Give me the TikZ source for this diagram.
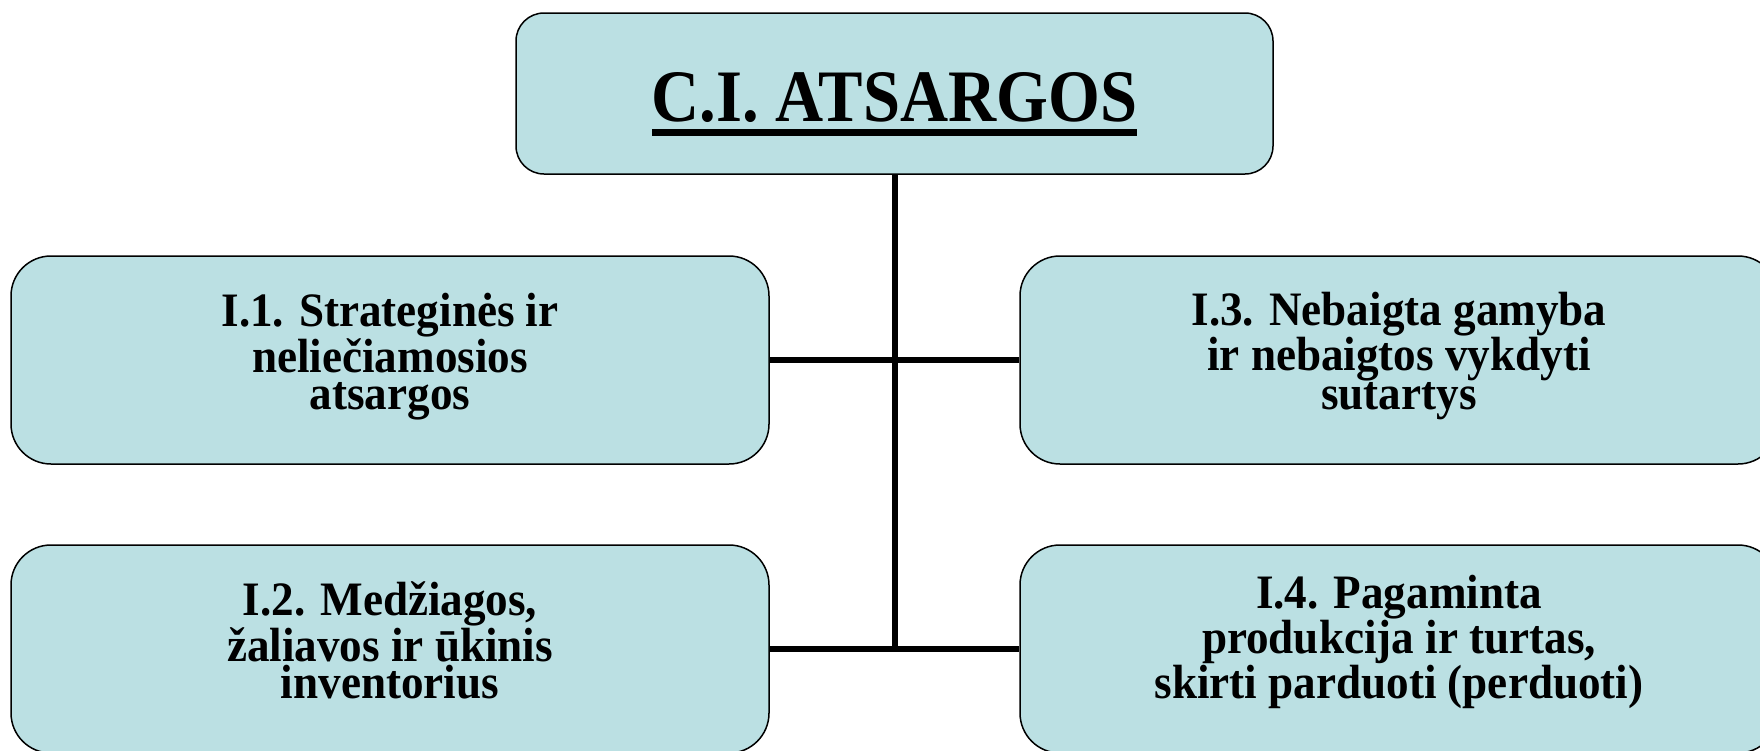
\documentclass[tikz,border=0pt]{standalone}
\usepackage{fontspec}
\setmainfont{Liberation Serif}
\newfontfamily\bodyfont[FakeStretch=0.94]{Liberation Serif}
\newfontfamily\titlefont[FakeStretch=0.90]{Liberation Serif}
\definecolor{boxfill}{HTML}{BBE0E3}
\newcommand{\thickul}[1]{\vtop{\hbox{#1}\kern6.5pt\hrule height 7pt}}
\begin{document}
\begin{tikzpicture}[x=1pt,y=-1pt,
  box/.style={draw=black, line width=1.5pt, fill=boxfill, rounded corners=40pt,
    minimum width=758pt, minimum height=208pt, inner sep=0pt, align=center,
    font=\bodyfont\bfseries\fontsize{48}{37}\selectfont,
    text height=108pt, text depth=10pt},
  topbox/.style={draw=black, line width=1.5pt, fill=boxfill, rounded corners=28pt,
    minimum width=757pt, minimum height=161pt, inner sep=0pt,
    font=\titlefont\bfseries\fontsize{74}{80}\selectfont,
    text height=69pt, text depth=14pt},
  conn/.style={line width=6pt, draw=black}]
\useasboundingbox (0,0) rectangle (1760,750);
\clip (0,0) rectangle (1760,750);
\node[topbox] (top) at (894.5,93.5) {\thickul{C.I. ATSARGOS}};
\node[box] (b1) at (390,360) {I.1. Strateginės ir\\nelie\v{c}iamosios\\atsargos};
\node[box] (b3) at (1399,360) {I.3. Nebaigta gamyba\\ir nebaigtos vykdyti\\sutartys};
\node[box] (b2) at (390,649) {I.2. Medžiagos,\\žaliavos ir ūkinis\\inventorius};
\node[box] (b4) at (1399,649) {I.4. Pagaminta\\produkcija ir turtas,\\skirti parduoti (perduoti)};
\coordinate (j) at (894.5,649);
\draw[conn] (top.south) -- (j);
\draw[conn] (b1.east) -- (b3.west);
\draw[conn] (b2.east) -- (b4.west);
\end{tikzpicture}
\end{document}
